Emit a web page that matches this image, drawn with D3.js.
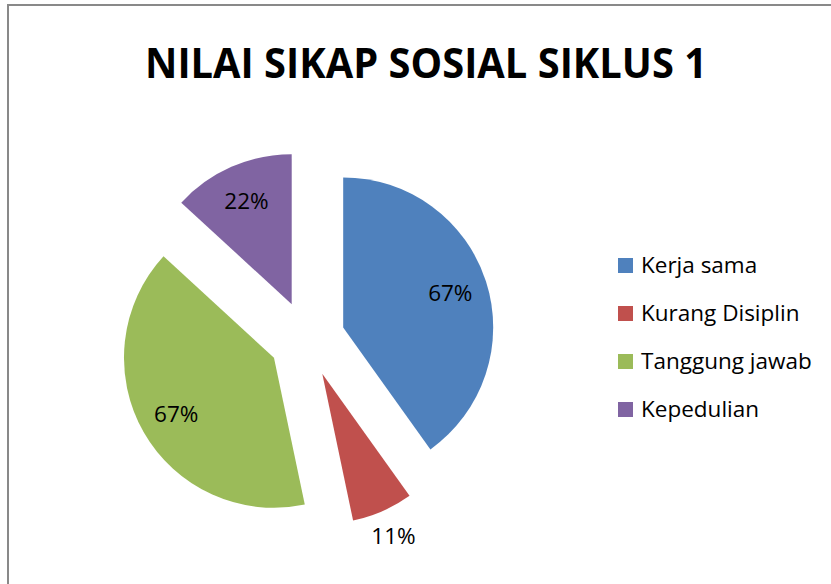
<!DOCTYPE html>
<html>
<head>
<meta charset="utf-8">
<script src="https://cdn.jsdelivr.net/npm/d3@7"></script>
<style>
  html, body { margin: 0; padding: 0; background: #fff; }
  svg { display: block; }
  text { font-family: "Open Sans", "Noto Sans", sans-serif; fill: #000; }
</style>
</head>
<body>
<svg id="chart" width="831" height="584"></svg>
<script>
// Chart data
const title = 'NILAI SIKAP SOSIAL SIKLUS 1';
const categories = ['Kerja sama', 'Kurang Disiplin', 'Tanggung jawab', 'Kepedulian'];
const values = [67, 11, 67, 22];
const labels = ['67%', '11%', '67%', '22%'];
const colors = ['#4F81BD', '#C0504D', '#9BBB59', '#8064A2'];

const width = 831, height = 584;
const svg = d3.select('#chart');

// Chart area border (only top and left edges visible)
svg.append('path')
    .attr('d', `M8,${height} V5 H${width}`)
    .attr('fill', 'none')
    .attr('stroke', '#898989')
    .attr('stroke-width', 2);

// Title
svg.append('text')
    .attr('x', 426)
    .attr('y', 78)
    .attr('text-anchor', 'middle')
    .attr('font-weight', 'bold')
    .attr('font-size', 42)
    .attr('textLength', 562)
    .attr('lengthAdjust', 'spacingAndGlyphs')
    .text(title);

// Pie
const cx = 307, cy = 339, radius = 150, explode = 38;
const pie = d3.pie().sort(null).value(d => d);
const arcs = pie(values);
const arc = d3.arc().innerRadius(0).outerRadius(radius);

const g = svg.append('g').attr('transform', `translate(${cx},${cy})`);

const slices = g.selectAll('g.slice')
    .data(arcs)
    .enter().append('g')
    .attr('class', 'slice')
    .attr('transform', d => {
        const mid = (d.startAngle + d.endAngle) / 2;
        return `translate(${Math.sin(mid) * explode},${-Math.cos(mid) * explode})`;
    });

slices.append('path')
    .attr('d', arc)
    .attr('fill', (d, i) => colors[i]);

// Data labels: inside for big slices, outside for the small one
slices.append('text')
    .attr('transform', d => {
        const mid = (d.startAngle + d.endAngle) / 2;
        const small = (d.endAngle - d.startAngle) < 0.5;
        const r = radius * (small ? 1.18 : 0.75);
        return `translate(${Math.sin(mid) * r},${-Math.cos(mid) * r})`;
    })
    .attr('text-anchor', 'middle')
    .attr('dy', '0.36em')
    .attr('font-size', 22.5)
    .text((d, i) => labels[i]);

// Legend
const legend = svg.append('g').attr('transform', 'translate(618,258)');
const rowStep = 48;
const items = legend.selectAll('g.item')
    .data(categories)
    .enter().append('g')
    .attr('class', 'item')
    .attr('transform', (d, i) => `translate(0,${i * rowStep})`);

items.append('rect')
    .attr('width', 15)
    .attr('height', 15)
    .attr('fill', (d, i) => colors[i]);

items.append('text')
    .attr('x', 23)
    .attr('y', 15)
    .attr('font-size', 22.5)
    .text(d => d);
</script>
</body>
</html>
